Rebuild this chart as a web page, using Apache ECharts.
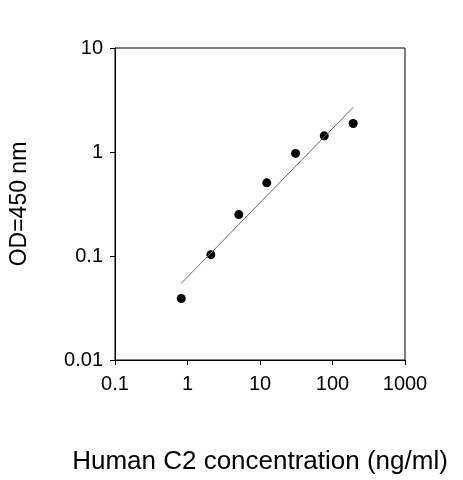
<!DOCTYPE html>
<html><head><meta charset="utf-8">
<script src="https://cdn.jsdelivr.net/npm/echarts@6/dist/echarts.min.js"></script>
<style>html,body{margin:0;padding:0;background:#fff}#c{width:463px;height:480px}</style>
</head><body><div id="c"></div>
<script>
const concentrations = [0.82, 2.1, 5.1, 12.4, 31, 77, 193];
const odValues = [0.039, 0.103, 0.25, 0.505, 0.97, 1.43, 1.88];
const fitX = [0.82, 193];
const fitY = [0.0546, 2.69];
const xTitle = 'Human C2 concentration (ng/ml)';
const yTitle = 'OD=450 nm';
const font = 'Liberation Sans, Arial, sans-serif';
const chart = echarts.init(document.getElementById('c'));
chart.setOption({
  animation:false,
  grid:{left:103,right:58,top:48,bottom:106,show:true,borderColor:'#000',borderWidth:1},
  xAxis:{type:'log',logBase:10,min:0.1,max:1000,name:xTitle,nameLocation:'middle',nameGap:89,
    nameTextStyle:{fontFamily:font,fontSize:26,color:'#000'},
    axisLine:{lineStyle:{color:'#000'}},axisTick:{inside:false,length:5,lineStyle:{color:'#000'}},
    minorTick:{show:false},splitLine:{show:false},
    axisLabel:{fontFamily:font,fontSize:20,color:'#000',margin:14,formatter:v=>String(+v.toPrecision(3))}},
  yAxis:{type:'log',logBase:10,min:0.01,max:10,name:yTitle,nameLocation:'middle',nameGap:84,
    nameTextStyle:{fontFamily:font,fontSize:23,color:'#000'},
    axisLine:{lineStyle:{color:'#000'}},axisTick:{inside:false,length:5,lineStyle:{color:'#000'}},
    splitLine:{show:false},
    axisLabel:{fontFamily:font,fontSize:20,color:'#000',margin:12,formatter:v=>String(+v.toPrecision(3))}},
  series:[
    {type:'line',data:fitX.map((x,i)=>[x,fitY[i]]),symbol:'none',lineStyle:{color:'#666',width:1}},
    {type:'scatter',data:concentrations.map((x,i)=>[x,odValues[i]]),symbolSize:9,itemStyle:{color:'#000',opacity:1}}
  ]
});
</script></body></html>
